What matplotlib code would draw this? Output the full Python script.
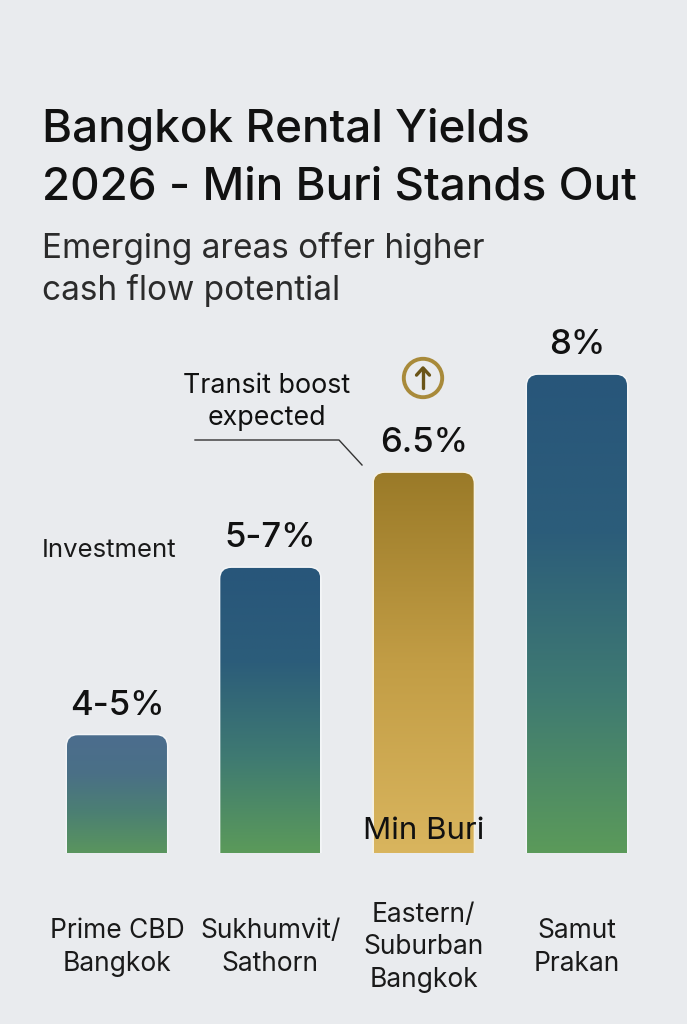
import numpy as np
import matplotlib
matplotlib.use("Agg")
import matplotlib.pyplot as plt
from matplotlib.path import Path
from matplotlib.patches import PathPatch, Circle
from matplotlib.colors import LinearSegmentedColormap

# ---------------- data ----------------
categories = ["Prime CBD\nBangkok", "Sukhumvit/\nSathorn", "Eastern/\nSuburban\nBangkok", "Samut\nPrakan"]
bar_heights = [1.97, 4.77, 6.36, 8.0]          # visual bar heights (yield %, as drawn)
value_labels = ["4-5%", "5-7%", "6.5%", "8%"]
highlight = [False, False, True, False]
title_lines = ["Bangkok Rental Yields", "2026 - Min Buri Stands Out"]
subtitle_lines = ["Emerging areas offer higher", "cash flow potential"]

# ---------------- style ----------------
FONT = ["Inter", "DejaVu Sans"]
plt.rcParams["font.family"] = FONT
BG = "#e9ebee"
W, H, DPI = 687, 1024, 100

fig = plt.figure(figsize=(W / DPI, H / DPI), dpi=DPI, facecolor=BG)

def fx(px):
    return px / W

def fy(py):
    return 1 - py / H

# axes: x from -0.5..3.5 ; y 0..8.5
ax_left, ax_right = 40.3, 653.7
ax_bottom, ax_top = 853, 345
ax = fig.add_axes([fx(ax_left), fy(ax_bottom), (ax_right - ax_left) / W, (ax_bottom - ax_top) / H])
ax.set_facecolor("none")
for s in ax.spines.values():
    s.set_visible(False)
ax.set_yticks([])

x = np.arange(len(categories))
bw = 0.652
bars = ax.bar(x, bar_heights, width=bw, color="none", edgecolor="none")
ax.set_xlim(-0.5, 3.5)
ax.set_ylim(0, 8.5)

px_per_x = (ax_right - ax_left) / 4.0
px_per_y = (ax_bottom - ax_top) / 8.5
r_px = 11
rx, ry = r_px / px_per_x, r_px / px_per_y

blue_green = LinearSegmentedColormap.from_list("bg", ["#5b9a5a", "#3f7a72", "#2c5d7a", "#28567a"])
muted = LinearSegmentedColormap.from_list("muted", ["#5a955e", "#4c8072", "#4a7086", "#4c6d8e"])
gold = LinearSegmentedColormap.from_list("gold", ["#d9b55e", "#c29d45", "#9a7a28"])

def top_rounded(x0, y0, w, h):
    verts = [(x0, y0), (x0 + w, y0), (x0 + w, y0 + h - ry), (x0 + w, y0 + h), (x0 + w - rx, y0 + h),
             (x0 + rx, y0 + h), (x0, y0 + h), (x0, y0 + h - ry), (x0, y0)]
    codes = [Path.MOVETO, Path.LINETO, Path.LINETO, Path.CURVE3, Path.CURVE3,
             Path.LINETO, Path.CURVE3, Path.CURVE3, Path.CLOSEPOLY]
    return Path(verts, codes)

grad = np.linspace(0, 1, 256).reshape(-1, 1)
for b, hl in zip(bars, highlight):
    x0, w, h = b.get_x(), b.get_width(), b.get_height()
    path = top_rounded(x0, 0, w, h)
    ax.add_patch(PathPatch(path, facecolor="none", edgecolor="#f6f1e2" if hl else "#f3f5f7", lw=2.2, zorder=1))
    clip = PathPatch(path, facecolor="none", edgecolor="none")
    ax.add_patch(clip)
    cmap = gold if hl else (muted if h < 3 else blue_green)
    im = ax.imshow(grad, extent=[x0, x0 + w, 0, h], origin="lower", aspect="auto",
                   cmap=cmap, vmin=0, vmax=1, zorder=2)
    im.set_clip_path(clip)

ax.set_xlim(-0.5, 3.5)
ax.set_ylim(0, 8.5)

# value labels
for xi, h, lab in zip(x, bar_heights, value_labels):
    ax.annotate(lab, (xi, h), xytext=(0, 33), textcoords="offset pixels",
                ha="center", va="center_baseline", fontsize=25, fontweight=500, color="#111111")

# category labels
ax.set_xticks(x)
ax.set_xticklabels(categories, fontsize=19, color="#1a1a1a", linespacing=1.33)
ax.tick_params(axis="x", length=0, pad=68)
for t in ax.get_xticklabels():
    t.set_va("center")
    t.set_multialignment("center")

# Min Buri inside bar
ax.text(x[2], 0.42, "Min Buri", ha="center", va="center_baseline", fontsize=22.5, color="#111111", zorder=3)

# title & subtitle
for yy, line in zip([125, 183], title_lines):
    fig.text(fx(42), fy(yy), line, ha="left", va="center_baseline", fontsize=33, fontweight=500, color="#111111")
for yy, line in zip([245, 287], subtitle_lines):
    fig.text(fx(42), fy(yy), line, ha="left", va="center_baseline", fontsize=24, color="#2b2b2b")

# annotation
for yy, line in zip([383, 415], ["Transit boost", "expected"]):
    fig.text(fx(267), fy(yy), line, ha="center", va="center_baseline", fontsize=19.3, color="#111111")
fig.add_artist(plt.Line2D([fx(195), fx(339), fx(362)], [fy(440), fy(440), fy(465)], color="#333333", lw=1.0))
fig.text(fx(42), fy(548), "Investment", ha="left", va="center_baseline", fontsize=18.5, color="#1a1a1a")

# circle arrow icon
iax = fig.add_axes([fx(423 - 24), fy(378 + 24), 48 / W, 48 / H])
iax.set_xlim(-1, 1)
iax.set_ylim(-1, 1)
iax.axis("off")
iax.add_patch(Circle((0, 0), 0.8, facecolor="none", edgecolor="#a88a3a", lw=2.8))
iax.plot([0, 0], [-0.42, 0.36], color="#6a5418", lw=2.4, solid_capstyle="round")
iax.plot([-0.27, 0, 0.27], [0.12, 0.42, 0.12], color="#6a5418", lw=2.4, solid_capstyle="round",
         solid_joinstyle="round")

fig.savefig("out.png", dpi=DPI, facecolor=BG)
